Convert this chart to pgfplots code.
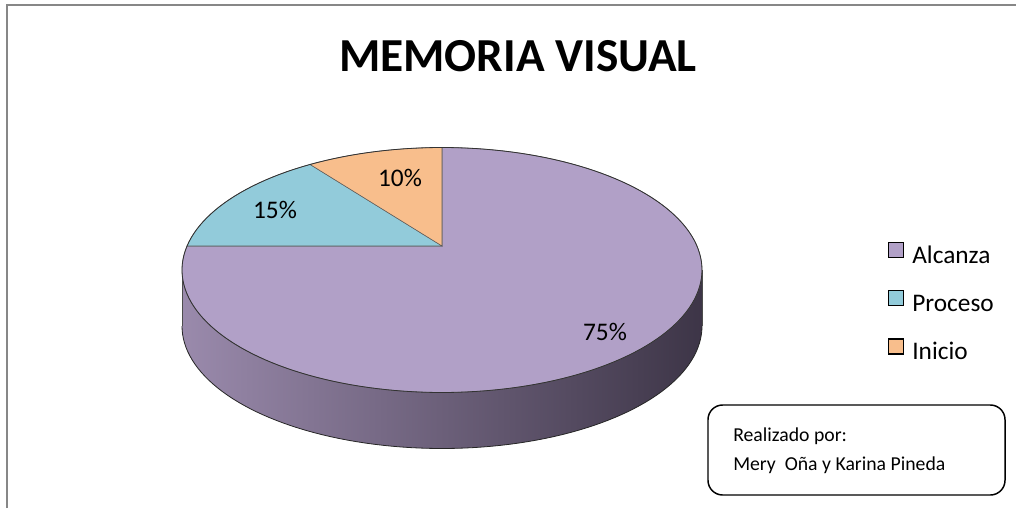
\documentclass[border=0pt]{standalone}
\usepackage{pgfplots}
\pgfplotsset{compat=1.18}
\usepackage{fontspec}
\setmainfont{Carlito}
\definecolor{alc}{HTML}{B1A0C7}
\definecolor{pro}{HTML}{92CBDA}
\definecolor{ini}{HTML}{F8BE8C}
\definecolor{sideL}{HTML}{9A8AAC}
\definecolor{sideR}{HTML}{3D3547}
\definecolor{framec}{HTML}{878787}
\definecolor{slicec}{HTML}{5A5A5A}
\begin{document}
\begin{tikzpicture}
\begin{axis}[scale only axis, width=762pt, height=381pt,
  xmin=0, xmax=1016, ymin=0, ymax=508, hide axis, clip=false,
  legend style={at={(0.874,0.524)}, anchor=north west, draw=none, fill=none,
    inner sep=0pt, outer sep=0pt, font=\fontsize{19}{22}\selectfont, row sep=16.2pt,
    nodes={inner sep=0pt, text height=14pt, text depth=4pt},
    /tikz/every odd column/.append style={column sep=6pt}},
  legend cell align=left,
  legend image code/.code={\draw[#1, draw=black, line width=1pt] (0pt,-0.8pt) rectangle (11.25pt,10.45pt);},
]
\coordinate (sw) at (axis cs:0,0);
\coordinate (ne) at (axis cs:1016,508);
% side of the pie
\addplot[forget plot, draw=none, left color=sideL, right color=sideR, domain=180:360, samples=90, variable=\t]
  ({442+260*cos(t)},{182+122.5*sin(t)}) -- (axis cs:702,238) -- (axis cs:182,238) -- cycle;
\addplot[forget plot, draw=black!85, line width=0.6pt, domain=180:360, samples=90, variable=\t]
  ({442+260*cos(t)},{182+122.5*sin(t)});
\addplot[forget plot, draw=black!70, line width=0.5pt] coordinates {(182,238) (182,182)};
\addplot[forget plot, draw=black!70, line width=0.5pt] coordinates {(702,238) (702,182)};
% top slices: Alcanza 75%, Proceso 15%, Inicio 10% (angles as seen on the tilted pie)
\addplot[forget plot, fill=alc, draw=slicec, line width=0.4pt, domain=168.7:450, samples=160, variable=\t]
  ({442+260*cos(t)},{238+122.5*sin(t)}) -- (axis cs:442,262) -- cycle;
\addplot[forget plot, fill=pro, draw=slicec, line width=0.4pt, domain=120.5:168.7, samples=40, variable=\t]
  ({442+260*cos(t)},{238+122.5*sin(t)}) -- (axis cs:442,262) -- cycle;
\addplot[forget plot, fill=ini, draw=slicec, line width=0.4pt, domain=90:120.5, samples=30, variable=\t]
  ({442+260*cos(t)},{238+122.5*sin(t)}) -- (axis cs:442,262) -- cycle;
\addplot[forget plot, draw=black!80, line width=0.6pt, domain=0:360, samples=180, variable=\t]
  ({442+260*cos(t)},{238+122.5*sin(t)});
% legend
\addlegendimage{fill=alc}\addlegendentry{Alcanza}
\addlegendimage{fill=pro}\addlegendentry{Proceso}
\addlegendimage{fill=ini}\addlegendentry{Inicio}
% labels
\node[font=\fontsize{19}{22}\selectfont] at (axis cs:605,176) {75\%};
\node[font=\fontsize{19}{22}\selectfont] at (axis cs:275,298) {15\%};
\node[font=\fontsize{19}{22}\selectfont] at (axis cs:400,330) {10\%};
\node[font=\fontsize{35.5}{40}\selectfont\bfseries, anchor=base] at (axis cs:518,436) {MEMORIA VISUAL};
% author box
\draw[line width=1.1pt, rounded corners=11pt] (axis cs:708,103) rectangle (axis cs:1005,13);
\node[anchor=base west, font=\fontsize{14.8}{17}\selectfont, inner sep=0pt] at (axis cs:733,67) {Realizado por:};
\node[anchor=base west, font=\fontsize{14.8}{17}\selectfont, inner sep=0pt] at (axis cs:733,38) {Mery\ \ Oña y Karina Pineda};
% frame
\draw[framec, line width=1.5pt] (axis cs:7,0) -- (axis cs:7,503) -- (axis cs:1016,503);
\end{axis}
\pgfresetboundingbox
\useasboundingbox (sw) rectangle (ne);
\end{tikzpicture}
\end{document}
